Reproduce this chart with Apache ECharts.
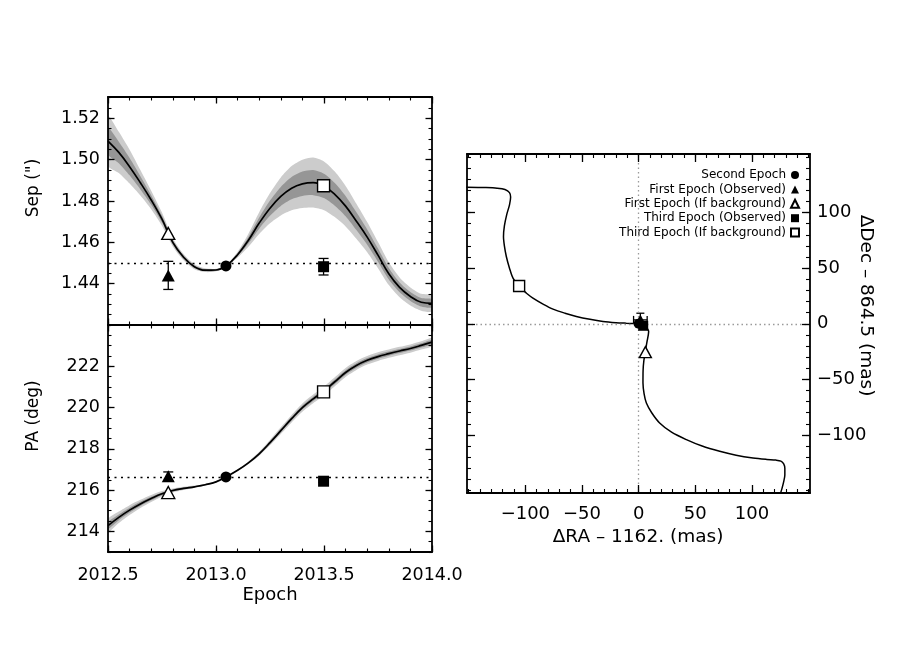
<!DOCTYPE html>
<html><head><meta charset="utf-8">
<script src="https://cdn.jsdelivr.net/npm/echarts@6/dist/echarts.min.js"></script>
<style>html,body{margin:0;padding:0;background:#fff}#c{width:900px;height:650px}</style>
</head><body><div id="c"></div><script>
const FONT = '"DejaVu Sans", "Liberation Sans", Arial, sans-serif';

// ---------- model track (separation / PA vs epoch) ----------
const epochs = [2012.50, 2012.55, 2012.60, 2012.65, 2012.70, 2012.75, 2012.80, 2012.85, 2012.90, 2012.95,
  2013.00, 2013.05, 2013.10, 2013.15, 2013.20, 2013.25, 2013.30, 2013.35, 2013.40, 2013.45,
  2013.50, 2013.55, 2013.60, 2013.65, 2013.70, 2013.75, 2013.80, 2013.85, 2013.90, 2013.95, 2014.00];
const sepModel = [1.5090, 1.5035, 1.4966, 1.4888, 1.4805, 1.4712, 1.4600, 1.4528, 1.4482, 1.4465,
  1.4466, 1.4489, 1.4540, 1.4610, 1.4693, 1.4765, 1.4822, 1.4862, 1.4883, 1.4889,
  1.4873, 1.4832, 1.4775, 1.4702, 1.4625, 1.4538, 1.4448, 1.4382, 1.4338, 1.4310, 1.4305];
const sepOuter = [0.0120, 0.0100, 0.0082, 0.0062, 0.0045, 0.0032, 0.0020, 0.0015, 0.0012, 0.0009,
  0.0006, 0.0003, 0.0014, 0.0032, 0.0053, 0.0073, 0.0092, 0.0107, 0.0117, 0.0121,
  0.0118, 0.0110, 0.0098, 0.0085, 0.0073, 0.0063, 0.0055, 0.0048, 0.0044, 0.0041, 0.0039];
const sepInner = [0.0064, 0.0052, 0.0042, 0.0032, 0.0023, 0.0016, 0.0010, 0.0008, 0.0006, 0.0005,
  0.0003, 0.0002, 0.0007, 0.0016, 0.0027, 0.0037, 0.0046, 0.0054, 0.0059, 0.0061,
  0.0059, 0.0055, 0.0049, 0.0043, 0.0037, 0.0032, 0.0028, 0.0024, 0.0022, 0.0021, 0.0020];
const paModel = [214.28, 214.68, 215.03, 215.33, 215.59, 215.82, 215.98, 216.08, 216.16, 216.26,
  216.40, 216.66, 216.96, 217.32, 217.76, 218.30, 218.88, 219.46, 220.00, 220.42,
  220.80, 221.25, 221.70, 222.04, 222.29, 222.47, 222.61, 222.74, 222.86, 223.01, 223.17];
const paOuter = [0.32, 0.28, 0.24, 0.20, 0.17, 0.13, 0.10, 0.08, 0.06, 0.04,
  0.03, 0.01, 0.04, 0.07, 0.10, 0.13, 0.16, 0.18, 0.20, 0.21,
  0.22, 0.22, 0.22, 0.22, 0.21, 0.21, 0.20, 0.20, 0.20, 0.20, 0.20];
const paInner = [0.16, 0.14, 0.12, 0.10, 0.085, 0.065, 0.05, 0.04, 0.03, 0.02,
  0.015, 0.005, 0.02, 0.035, 0.05, 0.065, 0.08, 0.09, 0.10, 0.105,
  0.11, 0.11, 0.11, 0.11, 0.105, 0.105, 0.10, 0.10, 0.10, 0.10, 0.10];
const sepRef = 1.4486;
const paRef = 216.64;

// ---------- measured / predicted points: [x, y, xerr, yerr] ----------
const sepSecond   = [2013.046, 1.4486];
const sepFirstObs = [2012.779, 1.4440, 0, 0.0068];
const sepFirstBg  = [2012.779, 1.4643];
const sepThirdObs = [2013.498, 1.4482, 0, 0.0040];
const sepThirdBg  = [2013.498, 1.4874];
const paSecond    = [2013.046, 216.64];
const paFirstObs  = [2012.779, 216.67, 0, 0.21];
const paFirstBg   = [2012.779, 215.88];
const paThirdObs  = [2013.498, 216.43, 0, 0.05];
const paThirdBg   = [2013.498, 220.76];

// ---------- sky-plane background track ----------
const trackRA = [-152, -135, -125, -118, -114, -113, -114, -116.5, -118.5, -119.3, -118.5, -116.8, -114, -110.9,
  -105.6, -99, -93.3, -84, -75.6, -65, -55, -43, -31.5, -20, -10.9, -4, 0, 4, 7, 8.8, 8.5, 7.4, 5.9, 4.6, 3.9,
  3.8, 4.8, 6.8, 11.5, 18.5, 29, 42.1, 56, 71.5, 86, 100.9, 113, 121, 125.5, 128, 129, 129, 128, 126.5, 125];
const trackDec = [122.8, 122.5, 122.0, 120.8, 118.0, 114.0, 107, 98, 88, 78.5, 70, 60.5, 50, 41.0,
  33.5, 27.5, 23.1, 17.5, 13.2, 9.5, 6.6, 4, 2.1, 1.0, 0.5, 0.2, 0, -1.5, -3.5, -6.5, -10, -15.9, -24.9, -33, -42,
  -53.3, -63, -71.3, -80, -89.2, -97.5, -104.2, -110, -114.7, -118.2, -120.7, -122, -122.6, -123.5, -126, -130, -136, -142, -148, -153];
const skySecond   = [0, 0];
const skyFirstObs = [1.5, 3.5, 6, 6];
const skyFirstBg  = [5.9, -25.5];
const skyThirdObs = [4.0, -1.8, 3, 3];
const skyThirdBg  = [-105.5, 34.0];

// ---------- ticks ----------
const epochTicks = [2012.5, 2013.0, 2013.5, 2014.0];
const sepTicks = [1.44, 1.46, 1.48, 1.50, 1.52];
const paTicks = [214, 216, 218, 220, 222];
const skyTicks = [-100, -50, 0, 50, 100];

const legendNames = ['Second Epoch', 'First Epoch (Observed)', 'First Epoch (If background)',
  'Third Epoch (Observed)', 'Third Epoch (If background)'];

function steps(a, b, s) {
  const out = []; const n = Math.round((b - a) / s);
  for (let i = 0; i <= n; i++) out.push(+(a + i * s).toFixed(6));
  return out;
}
const minus = v => (v < 0 ? '\u2212' + Math.abs(v) : String(v));

const xAxes = [], yAxes = [];
function addAxes(list, grid, sides, min, max, majors, minors, majLen, minLen, labelSide, fmt, margin, fsize) {
  const idx = list.length;
  sides.forEach(pos => {
    list.push({
      type: 'value', gridIndex: grid, position: pos, min: min, max: max, z: 10,
      axisLine: { show: true, onZero: false, lineStyle: { color: '#000', width: 1.8 } },
      axisTick: { show: true, inside: true, length: majLen, customValues: majors, lineStyle: { color: '#000', width: 1.3 } },
      axisLabel: { show: pos === labelSide, customValues: majors, formatter: fmt, margin: margin,
        color: '#000', fontSize: fsize, fontFamily: FONT, hideOverlap: false },
      splitLine: { show: false }, minorTick: { show: false }, axisPointer: { show: false }
    });
    list.push({
      type: 'value', gridIndex: grid, position: pos, min: min, max: max, z: 10,
      axisLine: { show: false, onZero: false },
      axisTick: { show: true, inside: true, length: minLen, customValues: minors, lineStyle: { color: '#000', width: 1.1 } },
      axisLabel: { show: false }, splitLine: { show: false }, axisPointer: { show: false }
    });
  });
  return idx;
}

const epochMinors = steps(2012.5, 2014.0, 0.1);
const x0 = addAxes(xAxes, 0, ['bottom', 'top'], 2012.5, 2014.0, epochTicks, epochMinors, 6.5, 3.5, 'none', v => v.toFixed(1), 14, 17.5);
const y0 = addAxes(yAxes, 0, ['left', 'right'], 1.42, 1.5303, sepTicks, steps(1.42, 1.53, 0.005), 6.5, 3.5, 'left', v => v.toFixed(2), 8, 17.5);
const x1 = addAxes(xAxes, 1, ['bottom', 'top'], 2012.5, 2014.0, epochTicks, epochMinors, 6.5, 3.5, 'bottom', v => v.toFixed(1), 14, 17.5);
const y1 = addAxes(yAxes, 1, ['left', 'right'], 213, 224, paTicks, steps(213, 224, 0.5), 6.5, 3.5, 'left', v => String(v), 8, 17.5);
const x2 = addAxes(xAxes, 2, ['bottom', 'top'], -151.5, 151.2, skyTicks, steps(-150, 150, 10), 8, 4, 'bottom', minus, 12, 18);
const y2 = addAxes(yAxes, 2, ['left', 'right'], -152.2, 152.7, skyTicks, steps(-150, 150, 10), 8, 4, 'right', minus, 7, 18);

function band(xi, yi, xs, center, hw, color, z) {
  return {
    type: 'custom', xAxisIndex: xi, yAxisIndex: yi, silent: true, z: z, clip: true,
    data: xs.map((x, i) => [x, center[i]]),
    renderItem: function (params, api) {
      if (params.dataIndex !== 0) return null;
      const pts = [];
      for (let i = 0; i < xs.length; i++) pts.push(api.coord([xs[i], center[i] + hw[i]]));
      for (let i = xs.length - 1; i >= 0; i--) pts.push(api.coord([xs[i], center[i] - hw[i]]));
      return { type: 'polygon', shape: { points: pts, smooth: 0.25 }, style: { fill: color } };
    }
  };
}
function curve(xi, yi, xs, ys, refLines) {
  const s = {
    type: 'line', xAxisIndex: xi, yAxisIndex: yi, silent: true, z: 3, symbol: 'none', smooth: 0.4,
    data: xs.map((x, i) => [x, ys[i]]), lineStyle: { color: '#000', width: 1.7 }, clip: true,
    emphasis: { disabled: true }
  };
  if (refLines) s.markLine = refLines;
  return s;
}
function errBars(xi, yi, items, cap) {
  return {
    type: 'custom', xAxisIndex: xi, yAxisIndex: yi, silent: true, z: 4,
    data: items.map(d => [d[0], d[1], d[2], d[3]]),
    encode: { x: 0, y: 1 },
    renderItem: function (params, api) {
      const x = api.value(0), y = api.value(1), xe = api.value(2), ye = api.value(3);
      const st = { stroke: '#000', lineWidth: 1.3 };
      const ch = [];
      if (ye > 0) {
        const a = api.coord([x, y + ye]), b = api.coord([x, y - ye]);
        ch.push({ type: 'line', shape: { x1: a[0], y1: a[1], x2: b[0], y2: b[1] }, style: st });
        ch.push({ type: 'line', shape: { x1: a[0] - cap, y1: a[1], x2: a[0] + cap, y2: a[1] }, style: st });
        ch.push({ type: 'line', shape: { x1: b[0] - cap, y1: b[1], x2: b[0] + cap, y2: b[1] }, style: st });
      }
      if (xe > 0) {
        const a = api.coord([x - xe, y]), b = api.coord([x + xe, y]);
        ch.push({ type: 'line', shape: { x1: a[0], y1: a[1], x2: b[0], y2: b[1] }, style: st });
        ch.push({ type: 'line', shape: { x1: a[0], y1: a[1] - cap, x2: a[0], y2: a[1] + cap }, style: st });
        ch.push({ type: 'line', shape: { x1: b[0], y1: b[1] - cap, x2: b[0], y2: b[1] + cap }, style: st });
      }
      return { type: 'group', children: ch };
    }
  };
}
function mark(name, xi, yi, p, symbol, size, filled) {
  return {
    type: 'scatter', name: name, xAxisIndex: xi, yAxisIndex: yi, silent: true, z: 5,
    data: [[p[0], p[1]]], symbol: symbol, symbolSize: size, emphasis: { disabled: true },
    itemStyle: filled ? { color: '#000', borderColor: '#000', borderWidth: 0, opacity: 1 }
                      : { color: '#fff', borderColor: '#000', borderWidth: 1.4, opacity: 1 }
  };
}
function markSet(xi, yi, P, sz) {
  return [
    mark(legendNames[0], xi, yi, P[0], 'circle', sz.c, true),
    mark(legendNames[1], xi, yi, P[1], 'triangle', sz.t, true),
    mark(legendNames[2], xi, yi, P[2], 'triangle', sz.t, false),
    mark(legendNames[3], xi, yi, P[3], 'rect', sz.fs, true),
    mark(legendNames[4], xi, yi, P[4], 'rect', sz.os, false)
  ];
}
const dotted = (v, color, type) => ({
  silent: true, symbol: 'none', label: { show: false }, animation: false,
  lineStyle: { color: color, width: 1.3, type: type }, data: [v]
});

const series = [
  band(x0, y0, epochs, sepModel, sepOuter, '#cccccc', 1),
  band(x0, y0, epochs, sepModel, sepInner, '#969696', 2),
  curve(x0, y0, epochs, sepModel, dotted({ yAxis: sepRef }, '#000', [2, 4.5])),
  errBars(x0, y0, [sepFirstObs, sepThirdObs], 5),
  ...markSet(x0, y0, [sepSecond, sepFirstObs, sepFirstBg, sepThirdObs, sepThirdBg], { c: 11, t: [13, 12], fs: 11, os: 12 }),

  band(x1, y1, epochs, paModel, paOuter, '#cccccc', 1),
  band(x1, y1, epochs, paModel, paInner, '#969696', 2),
  curve(x1, y1, epochs, paModel, dotted({ yAxis: paRef }, '#000', [2, 4.5])),
  errBars(x1, y1, [paFirstObs, paThirdObs], 5),
  ...markSet(x1, y1, [paSecond, paFirstObs, paFirstBg, paThirdObs, paThirdBg], { c: 11, t: [13, 12], fs: 11, os: 12 }),

  Object.assign(curve(x2, y2, trackRA, trackDec, null), { smooth: 0.3, lineStyle: { color: '#000', width: 1.5 } }),
  {
    type: 'line', xAxisIndex: x2, yAxisIndex: y2, silent: true, z: 2, symbol: 'none', data: [],
    markLine: {
      silent: true, symbol: 'none', label: { show: false }, animation: false,
      lineStyle: { color: '#9a9a9a', width: 1.3, type: [1.5, 3] },
      data: [{ xAxis: 0 }, { yAxis: 0 }]
    }
  },
  errBars(x2, y2, [skyFirstObs, skyThirdObs], 4),
  ...markSet(x2, y2, [skySecond, skyFirstObs, skyFirstBg, skyThirdObs, skyThirdBg], { c: 10, t: [12, 11], fs: 10, os: 11 })
];

const title = (txt, x, y, rot, size) => ({
  type: 'text', x: x, y: y, rotation: rot, silent: true, z: 20,
  style: { text: txt, font: size + 'px ' + FONT, fontSize: size, fontFamily: FONT, fill: '#000',
    align: 'center', verticalAlign: 'middle', textAlign: 'center', textVerticalAlign: 'middle' }
});

const chart = echarts.init(document.getElementById('c'), null, { renderer: 'canvas' });
chart.setOption({
  animation: false,
  backgroundColor: '#fff',
  grid: [
    { left: 108, top: 97, width: 324, height: 228, containLabel: false, outerBoundsMode: 'none' },
    { left: 108, top: 325, width: 324, height: 227, containLabel: false, outerBoundsMode: 'none' },
    { left: 467, top: 154, width: 343, height: 339, containLabel: false, outerBoundsMode: 'none' }
  ],
  xAxis: xAxes,
  yAxis: yAxes,
  legend: {
    data: legendNames, orient: 'vertical', right: 100, top: 169, align: 'right',
    itemWidth: 8, itemHeight: 8, itemGap: 2.4, padding: 0, selectedMode: false,
    textStyle: { fontSize: 12, fontFamily: FONT, color: '#000', lineHeight: 12 }
  },
  graphic: [
    title('Sep (")', 34, 188, Math.PI / 2, 17),
    title('PA (deg)', 34, 416, Math.PI / 2, 17),
    title('Epoch', 270, 595, 0, 18),
    title('\u0394RA \u2013 1162. (mas)', 638, 537.5, 0, 18.5),
    title('\u0394Dec \u2013 864.5 (mas)', 866, 305.5, -Math.PI / 2, 18.5)
  ],
  series: series
});
</script></body></html>
